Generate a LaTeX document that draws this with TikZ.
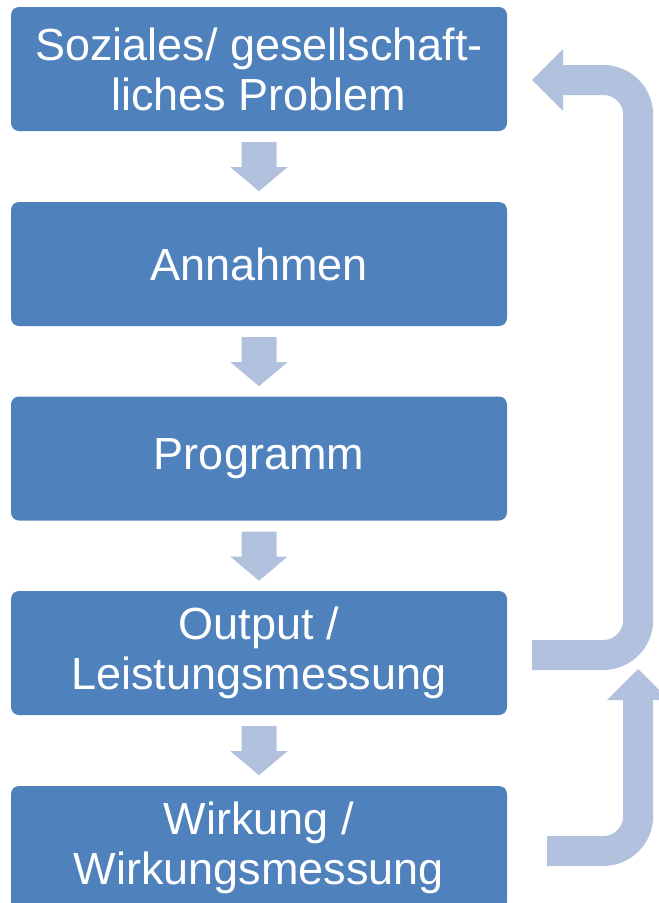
\documentclass[tikz,border=0pt]{standalone}
\usepackage{fontspec}
\setmainfont{Liberation Sans}
\usetikzlibrary{calc}
\definecolor{boxblue}{HTML}{4F81BD}
\definecolor{arrblue}{HTML}{B2C1DE}
\begin{document}
\begin{tikzpicture}[x=1pt,y=-1pt,
  stepbox/.style={fill=boxblue, rounded corners=8pt, minimum width=496pt, minimum height=124pt,
    text=white, align=center, font=\fontsize{45}{50}\selectfont, inner sep=0pt},
  loopshaft/.style={draw=arrblue, line width=30pt, rounded corners=35pt}]
\useasboundingbox (0,0) rectangle (659,903);
\clip (0,0) rectangle (659,903);
\node[stepbox] (b1) at (259,69) {Soziales/ gesellschaft-\\liches Problem};
\node[stepbox] (b2) at (259,264) {Annahmen};
\node[stepbox] (b3) at (259,458.5) {Programm};
\node[stepbox] (b4) at (259,653) {Output /\\Leistungsmessung};
\node[stepbox] (b5) at (259,848) {Wirkung /\\Wirkungsmessung};
\foreach \a in {b1,b2,b3,b4}{
  \fill[arrblue] ($(\a.south)+(-17.5,11)$) -- ($(\a.south)+(17.5,11)$) -- ($(\a.south)+(17.5,36)$)
    -- ($(\a.south)+(28.5,36)$) -- ($(\a.south)+(0,60)$) -- ($(\a.south)+(-28.5,36)$)
    -- ($(\a.south)+(-17.5,36)$) -- cycle;
}
% feedback arrow from Output to Problem
\coordinate (c1s) at ($(b4.east)+(25,2)$);
\coordinate (c1h) at ($(b1.east)+(56,11)$);
\draw[loopshaft] (c1s) -- ++(106,0) |- ($(c1h)+(-1,0)$);
\fill[arrblue] ($(c1h)+(0,-31)$) -- ($(c1h)+(-31,0)$) -- ($(c1h)+(0,31)$) -- cycle;
% arrow from Wirkung upward
\coordinate (c2s) at ($(b5.east)+(40,3)$);
\coordinate (c2h) at ($(b4.east)+(131,47)$);
\draw[loopshaft] (c2s) -| ($(c2h)+(0,-1)$);
\fill[arrblue] ($(c2h)+(-31,0)$) -- ($(c2h)+(0,-31)$) -- ($(c2h)+(31,0)$) -- cycle;
\end{tikzpicture}
\end{document}
